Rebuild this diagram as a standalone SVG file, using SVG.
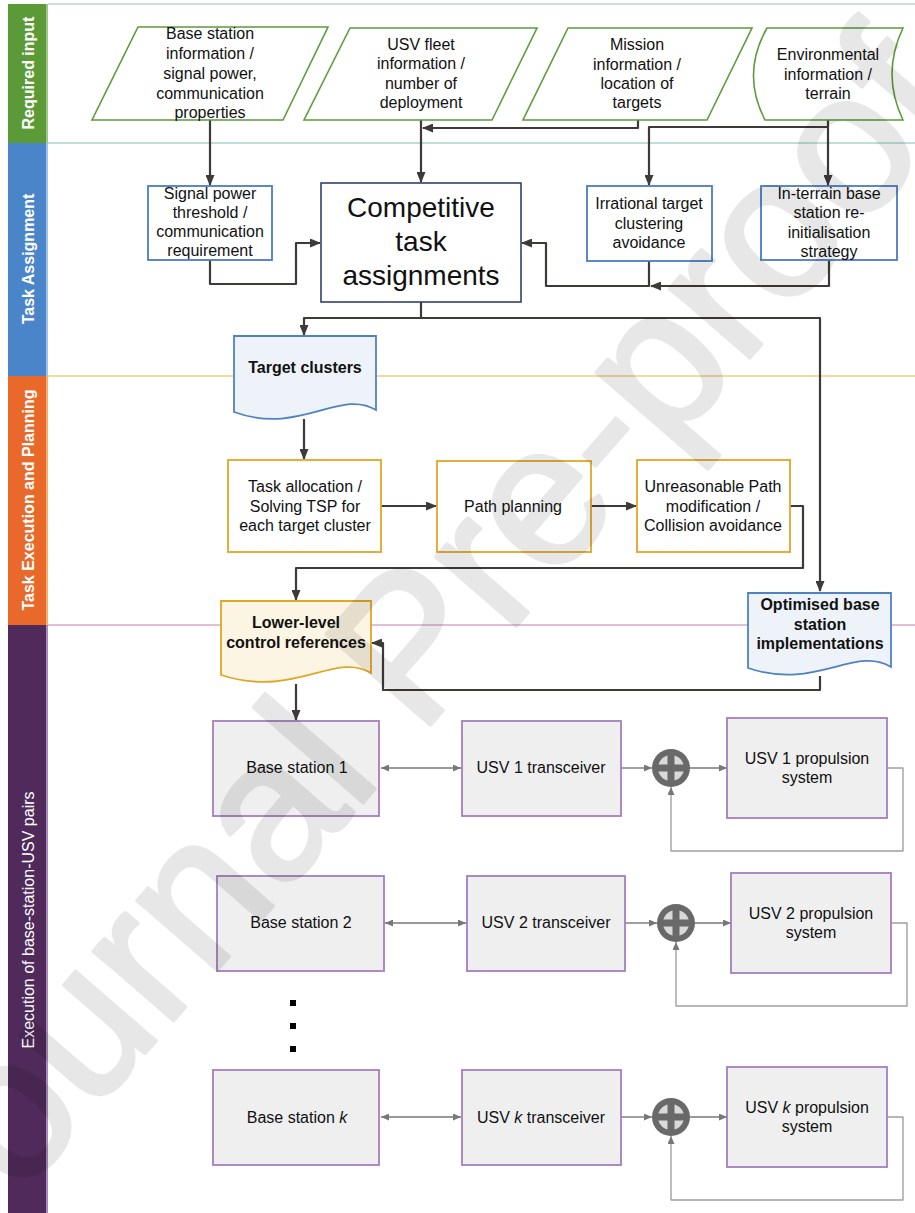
<svg xmlns="http://www.w3.org/2000/svg" width="915" height="1213" viewBox="0 0 915 1213">
<defs>
<marker id="ah" markerUnits="userSpaceOnUse" markerWidth="11" markerHeight="9" refX="10" refY="4.5" orient="auto"><path d="M0,0 L11,4.5 L0,9 Z" fill="#3d3a38"/></marker>
<marker id="sh" markerUnits="userSpaceOnUse" markerWidth="8" markerHeight="7" refX="8" refY="3.5" orient="auto-start-reverse"><path d="M0,0 L8,3.5 L0,7 Z" fill="#777"/></marker>
</defs>
<style>
text{font-family:"Liberation Sans",Arial,sans-serif;fill:#111;font-size:16px;text-anchor:middle}
.lane{fill:#fff;font-weight:bold}
.lanen{fill:#fff}
.b{font-weight:bold}
.big{font-size:28px}
.in{fill:#fff;stroke:#5e9b3c;stroke-width:1.6}
.ta{fill:#fff;stroke:#4b7dbf;stroke-width:1.8}
.te{fill:#fff;stroke:#e2a626;stroke-width:1.8}
.ex{fill:#efefef;stroke:#a47ebf;stroke-width:1.8}
.docb{fill:#eef3f9;stroke:#4f82c0;stroke-width:1.8}
.docy{fill:#fdf5e3;stroke:#e2a626;stroke-width:1.8}
.c{fill:none;stroke:#3d3a38;stroke-width:2.2;stroke-linejoin:round}
.g{fill:none;stroke:#777;stroke-width:1.4}
.fb{fill:none;stroke:#a0a0a0;stroke-width:1.4;stroke-linejoin:round}
.wm{font-size:200px;text-anchor:start;fill:#000;stroke:#000;stroke-width:4;stroke-linejoin:round}
</style>
<rect width="915" height="1213" fill="#fff"/>
<g id="lanes">
<line x1="48" y1="4" x2="915" y2="4" stroke="#bcd6ce" stroke-width="1.5"/>
<line x1="48" y1="143" x2="915" y2="143" stroke="#a9d3ca" stroke-width="1.5"/>
<line x1="48" y1="376" x2="915" y2="376" stroke="#f5cf7c" stroke-width="1.5"/>
<line x1="48" y1="625" x2="915" y2="625" stroke="#d6abc9" stroke-width="1.5"/>
<rect x="8" y="4" width="40" height="139" fill="#5b9a37"/>
<rect x="46" y="4" width="2" height="139" fill="#9cc887"/>
<rect x="8" y="143" width="40" height="233" fill="#4a84c9"/>
<rect x="46" y="143" width="2" height="233" fill="#9fc4ea"/>
<rect x="8" y="376" width="40" height="249" fill="#e8692a"/>
<rect x="46" y="376" width="2" height="249" fill="#f5b070"/>
<rect x="8" y="625" width="40" height="588" fill="#4f2a5b"/>
<rect x="46" y="625" width="2" height="588" fill="#a88ab8"/>
<text class="lane" x="34" y="73" transform="rotate(-90 34 73)">Required input</text>
<text class="lane" x="34" y="259" transform="rotate(-90 34 259)">Task Assignment</text>
<text class="lane" x="34" y="500" transform="rotate(-90 34 500)">Task Execution and Planning</text>
<text class="lanen" x="34" y="920" transform="rotate(-90 34 920)">Execution of base-station-USV pairs</text>
</g>
<g id="connectors">
<path class="c" d="M210,120 V185" marker-end="url(#ah)"/>
<path class="c" d="M421,120 V182" marker-end="url(#ah)"/>
<path class="c" d="M638,120 V128 H423" marker-end="url(#ah)"/>
<path class="c" d="M828,120 V127 H649 V185" marker-end="url(#ah)"/>
<path class="c" d="M828,127 V185" marker-end="url(#ah)"/>
<path class="c" d="M210,260 V284 H296 V243 H320" marker-end="url(#ah)"/>
<path class="c" d="M829,260 V286 H651" marker-end="url(#ah)"/>
<path class="c" d="M649,261 V286 H546 V243 H522" marker-end="url(#ah)"/>
<path class="c" d="M421,302 V318 H304 V335" marker-end="url(#ah)"/>
<path class="c" d="M421,318 H820 V591" marker-end="url(#ah)"/>
<path class="c" d="M304,419 V459" marker-end="url(#ah)"/>
<path class="c" d="M381,506 H436" marker-end="url(#ah)"/>
<path class="c" d="M591,506 H636" marker-end="url(#ah)"/>
<path class="c" d="M790,506 H803 V568 H296 V600" marker-end="url(#ah)"/>
<path class="c" d="M820,676 V690 H383 V643 H372" marker-end="url(#ah)"/>
<path class="c" d="M296,684 V720" marker-end="url(#ah)"/>
<path class="g" d="M381,768 H461" marker-start="url(#sh)" marker-end="url(#sh)"/>
<path class="g" d="M621,768 H652" marker-end="url(#sh)"/>
<path class="g" d="M690,768 H727" marker-end="url(#sh)"/>
<path class="fb" d="M887,768 H903 V851 H671 V787" marker-end="url(#sh)"/>
<path class="g" d="M385,923 H466" marker-start="url(#sh)" marker-end="url(#sh)"/>
<path class="g" d="M625,923 H657" marker-end="url(#sh)"/>
<path class="g" d="M695,923 H731" marker-end="url(#sh)"/>
<path class="fb" d="M891,923 H907 V1006 H676 V942" marker-end="url(#sh)"/>
<path class="g" d="M381,1117 H461" marker-start="url(#sh)" marker-end="url(#sh)"/>
<path class="g" d="M621,1117 H652" marker-end="url(#sh)"/>
<path class="g" d="M690,1117 H727" marker-end="url(#sh)"/>
<path class="fb" d="M887,1117 H903 V1200 H671 V1136" marker-end="url(#sh)"/>
</g>
<g id="in-base-station">
<path class="in" d="M138,27 H328 L283,120 H92 Z"/>
<text x="210" y="39">Base station</text>
<text x="210" y="59">information /</text>
<text x="210" y="79">signal power,</text>
<text x="210" y="99">communication</text>
<text x="210" y="118">properties</text>
</g>
<g id="in-usv-fleet">
<path class="in" d="M350,28 H537 L492,120 H304 Z"/>
<text x="421" y="50">USV fleet</text>
<text x="421" y="69">information /</text>
<text x="421" y="89">number of</text>
<text x="421" y="108">deployment</text>
</g>
<g id="in-mission">
<path class="in" d="M568,28 H752 L707,120 H523 Z"/>
<text x="637" y="50">Mission</text>
<text x="637" y="70">information /</text>
<text x="637" y="89">location of</text>
<text x="637" y="108">targets</text>
</g>
<g id="in-environment">
<path class="in" d="M767,28 H903 Q881,74 903,120 H765 Q741,74 767,28 Z"/>
<text x="828" y="60">Environmental</text>
<text x="828" y="80">information /</text>
<text x="828" y="99">terrain</text>
</g>
<g id="signal-threshold">
<rect class="ta" x="148" y="186" width="124" height="74"/>
<text x="210" y="199">Signal power</text>
<text x="210" y="218">threshold /</text>
<text x="210" y="237">communication</text>
<text x="210" y="256">requirement</text>
</g>
<g id="competitive">
<rect x="321" y="183" width="200" height="119" fill="#fff" stroke="#34406b" stroke-width="1.6"/>
<text class="big" x="421" y="217">Competitive</text>
<text class="big" x="421" y="251">task</text>
<text class="big" x="421" y="285">assignments</text>
</g>
<g id="irrational">
<rect class="ta" x="587" y="186" width="125" height="75"/>
<text x="649" y="209">Irrational target</text>
<text x="649" y="229">clustering</text>
<text x="649" y="248">avoidance</text>
</g>
<g id="in-terrain">
<rect class="ta" x="761" y="186" width="136" height="74"/>
<text x="829" y="199">In-terrain base</text>
<text x="829" y="218">station re-</text>
<text x="829" y="238">initialisation</text>
<text x="829" y="257">strategy</text>
</g>
<g id="target-clusters">
<path class="docb" d="M234,336 H376 V410 C340,388 300,436 234,412 Z"/>
<text class="b" x="305" y="373">Target clusters</text>
</g>
<g id="task-allocation">
<rect class="te" x="228" y="460" width="153" height="92"/>
<text x="305" y="492">Task allocation /</text>
<text x="305" y="512">Solving TSP for</text>
<text x="305" y="531">each target cluster</text>
</g>
<g id="path-planning">
<rect class="te" x="437" y="461" width="154" height="91"/>
<text x="513" y="512">Path planning</text>
</g>
<g id="path-modification">
<rect class="te" x="637" y="460" width="153" height="92"/>
<text x="713" y="492">Unreasonable Path</text>
<text x="713" y="512">modification /</text>
<text x="713" y="531">Collision avoidance</text>
</g>
<g id="lower-level">
<path class="docy" d="M221,601 H371 V673 C335,651 295,699 221,675 Z"/>
<text class="b" x="296" y="628">Lower-level</text>
<text class="b" x="296" y="648">control references</text>
</g>
<g id="optimised">
<path class="docb" d="M748,593 H891 V667 C855,645 815,691 748,668 Z"/>
<text class="b" x="820" y="610">Optimised base</text>
<text class="b" x="820" y="630">station</text>
<text class="b" x="820" y="649">implementations</text>
</g>
<g id="base-station-1">
<rect class="ex" x="213" y="721" width="166" height="95"/>
<text x="297" y="773">Base station 1</text>
</g>
<g id="usv1-transceiver">
<rect class="ex" x="462" y="721" width="159" height="95"/>
<text x="541" y="773">USV 1 transceiver</text>
</g>
<g id="sum-1">
<circle cx="671" cy="768" r="19" fill="#696969"/>
<circle cx="671" cy="768" r="13" fill="#d9d9d9"/>
<rect x="657" y="764.5" width="28" height="7" fill="#696969"/>
<rect x="667.5" y="754" width="7" height="28" fill="#696969"/>
</g>
<g id="usv1-propulsion">
<rect class="ex" x="727" y="718" width="160" height="100"/>
<text x="807" y="764">USV 1 propulsion</text>
<text x="807" y="783">system</text>
</g>
<g id="base-station-2">
<rect class="ex" x="217" y="876" width="167" height="95"/>
<text x="301" y="928">Base station 2</text>
</g>
<g id="usv2-transceiver">
<rect class="ex" x="467" y="876" width="158" height="95"/>
<text x="546" y="928">USV 2 transceiver</text>
</g>
<g id="sum-2">
<circle cx="676" cy="923" r="19" fill="#696969"/>
<circle cx="676" cy="923" r="13" fill="#d9d9d9"/>
<rect x="662" y="919.5" width="28" height="7" fill="#696969"/>
<rect x="672.5" y="909" width="7" height="28" fill="#696969"/>
</g>
<g id="usv2-propulsion">
<rect class="ex" x="731" y="873" width="160" height="100"/>
<text x="811" y="919">USV 2 propulsion</text>
<text x="811" y="938">system</text>
</g>
<g id="ellipsis">
<rect x="290" y="1000" width="6" height="6" fill="#000"/>
<rect x="290" y="1023" width="6" height="6" fill="#000"/>
<rect x="290" y="1046" width="6" height="6" fill="#000"/>
</g>
<g id="base-station-k">
<rect class="ex" x="213" y="1070" width="166" height="95"/>
<text x="297" y="1123">Base station <tspan font-style="italic">k</tspan></text>
</g>
<g id="usvk-transceiver">
<rect class="ex" x="462" y="1070" width="159" height="95"/>
<text x="541" y="1123">USV <tspan font-style="italic">k</tspan> transceiver</text>
</g>
<g id="sum-k">
<circle cx="671" cy="1117" r="19" fill="#696969"/>
<circle cx="671" cy="1117" r="13" fill="#d9d9d9"/>
<rect x="657" y="1113.5" width="28" height="7" fill="#696969"/>
<rect x="667.5" y="1103" width="7" height="28" fill="#696969"/>
</g>
<g id="usvk-propulsion">
<rect class="ex" x="727" y="1067" width="160" height="100"/>
<text x="807" y="1113">USV <tspan font-style="italic">k</tspan> propulsion</text>
<text x="807" y="1132">system</text>
</g>
<g id="watermark" opacity="0.09">
<text class="wm" x="-47" y="1274" transform="rotate(-49 -47 1274)">Journal Pre-proof</text>
</g>
</svg>
